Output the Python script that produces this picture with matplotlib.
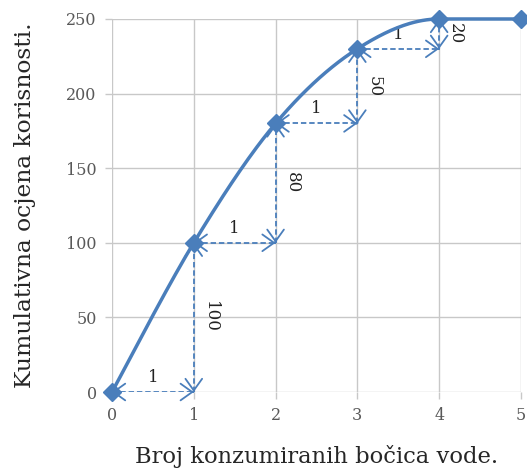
import numpy as np
import matplotlib
matplotlib.use("Agg")
import matplotlib.pyplot as plt

bottles = [0, 1, 2, 3, 4, 5]
utility = [0, 100, 180, 230, 250, 250]
marginal = [100, 80, 50, 20]
step_labels = ["1", "1", "1", "1"]
xticks = [0, 1, 2, 3, 4, 5]
yticks = [0, 50, 100, 150, 200, 250]

blue = "#4a7ebb"
plt.rcParams['font.family'] = ['DejaVu Serif']

fig = plt.figure(figsize=(5.27, 4.71), dpi=100)
ax = fig.add_axes([0.2125, 0.1677, 0.776, 0.792])

# Smoothed line (Catmull-Rom tangents, flattened next to flat segments)
P = np.array(list(zip(bottles, utility)), dtype=float)
n = len(P)
T = np.zeros_like(P)
for i in range(n):
    a = P[i - 1] if i > 0 else P[i]
    b = P[i + 1] if i < n - 1 else P[i]
    T[i] = (b - a) / 2
    left_flat = i > 0 and P[i, 1] == P[i - 1, 1]
    right_flat = i < n - 1 and P[i, 1] == P[i + 1, 1]
    if left_flat or right_flat:
        T[i, 1] = 0
pts = []
for i in range(n - 1):
    p1, p2 = P[i], P[i + 1]
    c1 = p1 + T[i] / 3
    c2 = p2 - T[i + 1] / 3
    t = np.linspace(0, 1, 40)[:, None]
    seg = (1 - t) ** 3 * p1 + 3 * (1 - t) ** 2 * t * c1 + 3 * (1 - t) * t ** 2 * c2 + t ** 3 * p2
    pts.append(seg)
pts = np.vstack(pts)
ax.plot(pts[:, 0], pts[:, 1], color=blue, lw=2.5, zorder=4, clip_on=False)
ax.plot(bottles, utility, ls="none", marker="D", ms=9, color=blue, zorder=5, clip_on=False)

head = dict(arrowstyle="->,head_length=0.42,head_width=0.3", color=blue, lw=1.3,
            shrinkA=0, shrinkB=0, mutation_scale=20)


def dashed_arrow(xa, ya, xb, yb):
    ax.plot([xa, xb], [ya, yb], color=blue, lw=1.3, ls=(0, (3, 1.6)), zorder=3)
    dx, dy = (xb - xa) * 0.01, (yb - ya) * 0.01
    ax.annotate("", xy=(xb, yb), xytext=(xb - dx, yb - dy), arrowprops=head, zorder=3)
    ax.annotate("", xy=(xa, ya), xytext=(xa + dx, ya + dy), arrowprops=head, zorder=3)


for i, m in enumerate(marginal):
    x0, x1 = bottles[i], bottles[i + 1]
    y0 = utility[i]
    dashed_arrow(x0, y0, x1, y0)
    ax.text((x0 + x1) / 2, y0 + 4, step_labels[i], ha="center", va="bottom",
            fontsize=12, color="#222222")
    dashed_arrow(x1, y0, x1, y0 + m)
    ax.text(x1 + 0.2, y0 + m / 2, str(m), rotation=-90, ha="center", va="center",
            fontsize=12, color="#222222")

ax.set_xlim(0, 5)
ax.set_ylim(0, 250)
ax.set_xticks(xticks)
ax.set_yticks(yticks)
ax.grid(True, color="#c8c8c8", lw=1)
ax.set_axisbelow(True)
for s in ax.spines.values():
    s.set_visible(False)
ax.tick_params(axis="both", colors="#c8c8c8", labelcolor="#595959", labelsize=11.5,
               length=5, width=1)
ax.tick_params(axis="x", pad=6)
ax.tick_params(axis="y", pad=6)
ax.set_xlabel("Broj konzumiranih bočica vode.", fontsize=16.3, color="#262626", labelpad=15)
ax.set_ylabel("Kumulativna ocjena korisnosti.", fontsize=16.8, color="#262626", labelpad=22)
for lab in ax.get_xticklabels() + ax.get_yticklabels():
    lab.set_clip_on(False)

fig.savefig("out.png", dpi=100)
